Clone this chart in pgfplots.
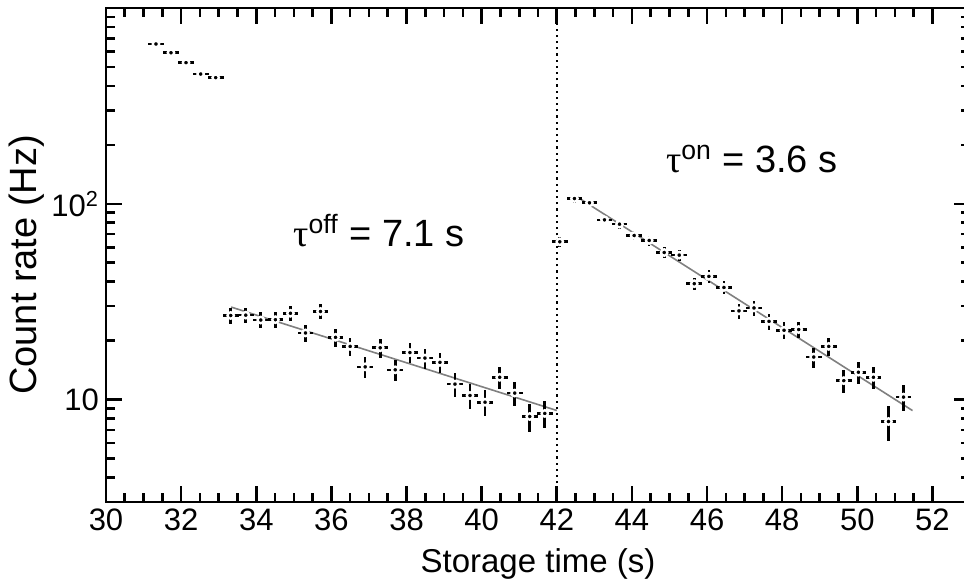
\documentclass[border=0pt]{standalone}
\usepackage{pgfplots}
\usepackage{pgfplotstable}
\pgfplotsset{compat=1.18}
\usepackage{fontspec}
\setmainfont{Liberation Sans}
\newfontfamily\greekserif{Liberation Serif}

\pgfplotstableread{
x y ex ey
31.33 655 0.21 12.0
31.73 591 0.21 11.4
32.13 526 0.21 10.8
32.52 460 0.21 10.1
32.92 441 0.21 9.9
33.32 26.9 0.21 2.44
33.72 27.0 0.21 2.44
34.12 25.5 0.21 2.37
34.51 25.6 0.21 2.38
34.91 27.6 0.21 2.47
35.31 21.9 0.21 2.20
35.71 28.2 0.21 2.50
36.11 20.8 0.21 2.14
36.50 18.7 0.21 2.03
36.90 14.7 0.21 1.80
37.30 18.4 0.21 2.02
37.70 14.2 0.21 1.77
38.09 17.4 0.21 1.96
38.49 16.3 0.21 1.90
38.89 15.5 0.21 1.85
39.29 12.0 0.21 1.63
39.69 10.5 0.21 1.52
40.09 9.7 0.21 1.46
40.48 13.0 0.21 1.69
40.88 10.8 0.21 1.54
41.28 8.2 0.21 1.35
41.68 8.5 0.21 1.37
42.08 64.0 0.21 3.76
42.47 106.4 0.21 4.85
42.87 101.2 0.21 4.73
43.27 82.8 0.21 4.28
43.67 78.7 0.21 4.17
44.06 68.9 0.21 3.90
44.46 65.0 0.21 3.79
44.86 56.4 0.21 3.53
45.26 54.7 0.21 3.48
45.66 39.1 0.21 2.94
46.05 42.6 0.21 3.07
46.45 37.4 0.21 2.87
46.85 28.4 0.21 2.50
47.25 29.4 0.21 2.55
47.65 25.1 0.21 2.35
48.05 22.6 0.21 2.23
48.44 22.8 0.21 2.24
48.84 16.5 0.21 1.91
49.24 18.7 0.21 2.03
49.64 12.5 0.21 1.66
50.03 13.8 0.21 1.75
50.43 13.0 0.21 1.69
50.83 7.73 0.21 1.60
51.23 10.3 0.21 1.51
}\counts

\begin{document}
\begin{tikzpicture}
\useasboundingbox (-53pt,-39pt) rectangle (429pt,251pt);
\begin{axis}[
  at={(0,0)}, anchor=south west,
  scale only axis, width=432pt, height=247pt,
  xmin=30, xmax=53, ymode=log, ymin=3, ymax=1000,
  xtick={30,32,...,52}, minor x tick num=3,
  ytick={10,100}, yticklabels={10,10\textsuperscript{2}},
  minor ytick={3,4,5,6,7,8,9,20,30,40,50,60,70,80,90,200,300,400,500,600,700,800,900},
  /pgf/number format/assume math mode=true,
  tick label style={font=\fontsize{15.5}{18}\selectfont},
  axis line style={line width=1.3pt},
  every tick/.style={black, line width=1.3pt},
  major tick length=8pt, minor tick length=4.5pt,
  xlabel={Storage time (s)}, ylabel={Count rate (Hz)},
  xlabel style={font=\fontsize{16.5}{19}\selectfont, at={(axis description cs:0.5,-0.1417)}, anchor=base},
  ylabel style={font=\fontsize{19}{22}\selectfont, at={(axis description cs:-0.0914,0.48)}, anchor=center},
  clip=false,
]
\addplot[black, dotted, line width=1.1pt] coordinates {(42,3) (42,1000)};
\addplot[gray, line width=0.8pt] coordinates {(33.33,29.7) (42,8.8)};
\addplot[gray, line width=0.8pt] coordinates {(42.55,108.2) (51.47,8.79)};
\addplot[only marks, mark=*, mark size=1.6pt,
  mark options={fill=black, draw=white, line width=1.2pt},
  error bars/.cd, x dir=both, x explicit, y dir=both, y explicit,
  error mark=none, error bar style={line width=1.3pt, black}]
  table[x=x, y=y, x error=ex, y error=ey] {\counts};
\node[anchor=base west, font=\fontsize{19}{22}\selectfont] at (axis cs:34.8,60.6)
  {{\greekserif τ}\textsuperscript{off} = 7.1 s};
\node[anchor=base west, font=\fontsize{19}{22}\selectfont] at (axis cs:44.72,144.5)
  {{\greekserif τ}\textsuperscript{on} = 3.6 s};
\end{axis}
\end{tikzpicture}
\end{document}
